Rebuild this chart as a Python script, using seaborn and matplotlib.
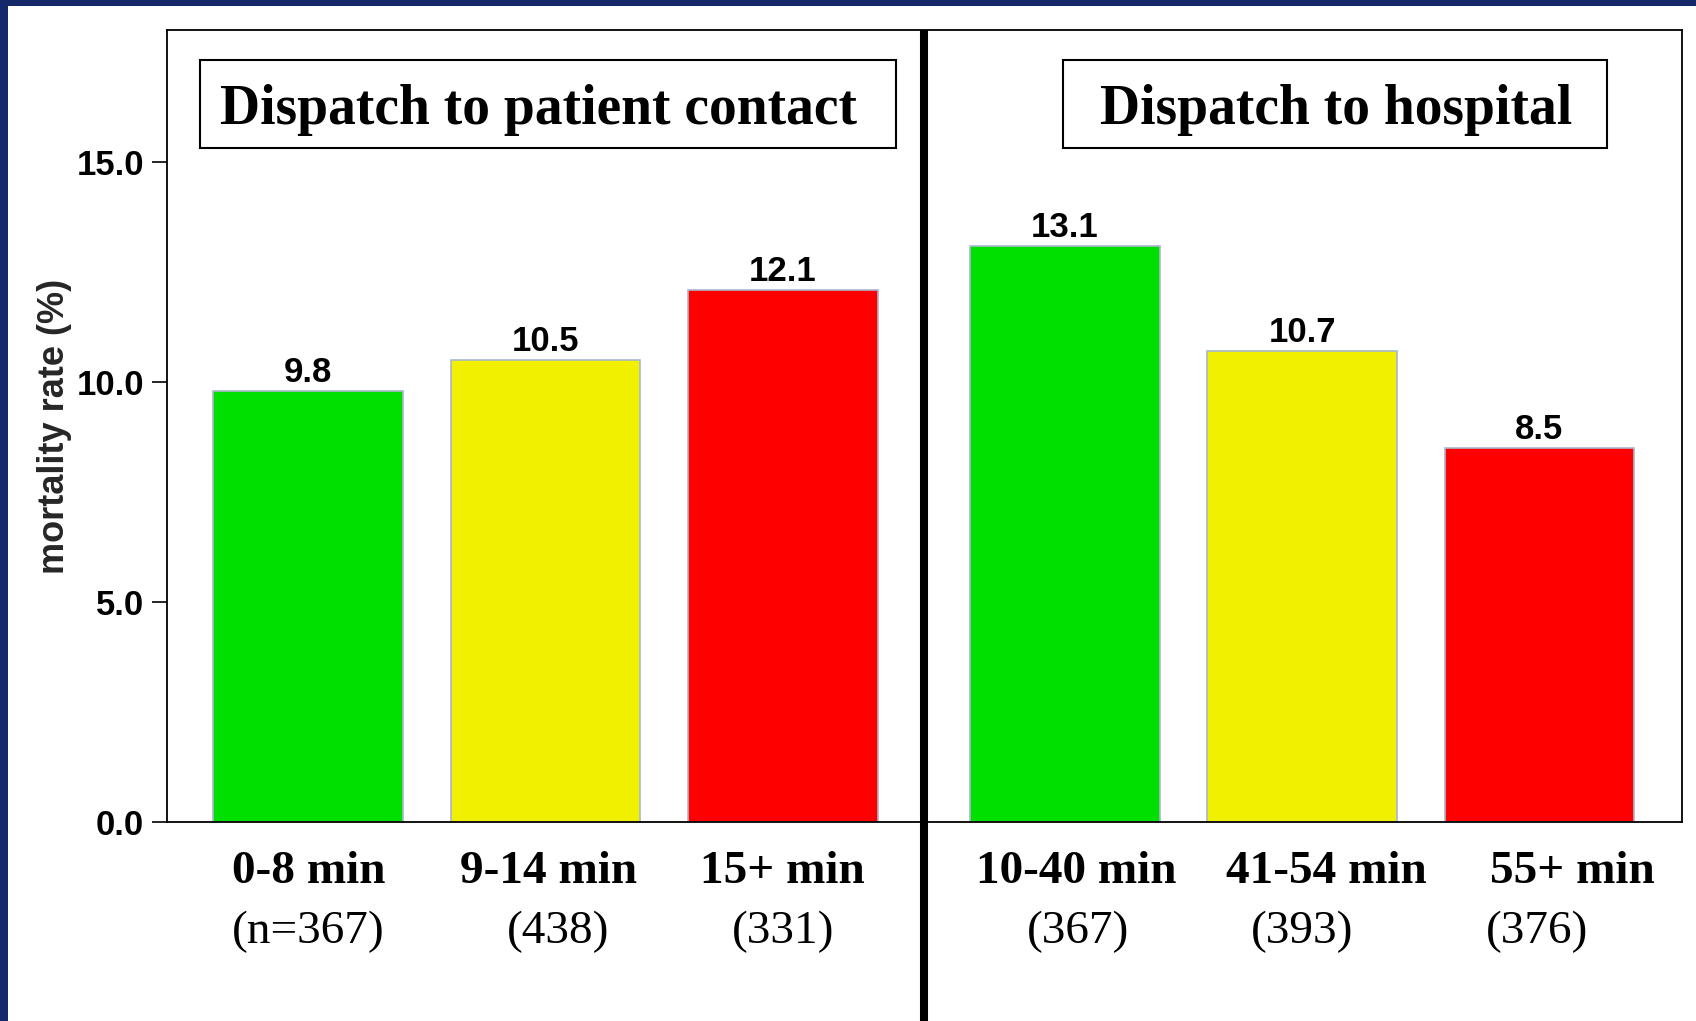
import numpy as np
import pandas as pd
import matplotlib.pyplot as plt
import seaborn as sns
from matplotlib.patches import Rectangle
from matplotlib.lines import Line2D
from matplotlib.transforms import blended_transform_factory

# data
panels = ["Dispatch to patient contact", "Dispatch to hospital"]
time_bins = ["0-8 min", "9-14 min", "15+ min", "10-40 min", "41-54 min", "55+ min"]
n_labels = ["(n=367)", "(438)", "(331)", "(367)", "(393)", "(376)"]
mortality = [9.8, 10.5, 12.1, 13.1, 10.7, 8.5]
panel_of_bin = [0, 0, 0, 1, 1, 1]
bar_colors = ["#00e000", "#f0f000", "#ff0000", "#00e000", "#f0f000", "#ff0000"]

sns.set_style("white")
plt.rcParams["font.family"] = ["Liberation Sans", "DejaVu Sans"]
plt.rcParams["text.color"] = "black"
plt.rcParams["ytick.color"] = "black"

# second panel is pushed right a little so the divider fits
panel_gap = 0.19
pos = [i + panel_gap * p for i, p in enumerate(panel_of_bin)]
df = pd.DataFrame({"bin": time_bins, "rate": mortality, "pos": pos})

fig = plt.figure(figsize=(16.96, 10.21), dpi=100)
fig.patch.set_facecolor("#15296a")
fig.add_artist(Rectangle((8 / 1696, 0), 1, 1 - 6 / 1021, transform=fig.transFigure,
                         facecolor="white", edgecolor="none", zorder=-10))

ax = fig.add_axes([167 / 1696, 199 / 1021, 1515 / 1696, 792 / 1021])
ax.set_facecolor("white")

sns.barplot(data=df, x="pos", y="rate", hue="bin", palette=dict(zip(time_bins, bar_colors)),
            native_scale=True, dodge=False, legend=False, errorbar=None, width=0.8,
            saturation=1, edgecolor="#a9b8cc", linewidth=1.2, ax=ax)

ax.set_xlim(-0.596, 5.791)
ax.set_ylim(0, 18)

# value labels on the bars
for x, v in zip(pos, mortality):
    ax.annotate(f"{v:.1f}", (x, v), xytext=(0, 6.5), textcoords="offset points",
                ha="center", va="baseline", fontsize=25, fontweight="bold")

# category labels + group sizes below the axis (slightly off-centre, as on the slide)
lab_shift = [0, 0.011, 0, 0.048, 0.103, 0.139]
n_shift = [0, 0.055, 0, 0.057, 0, -0.011]
ax.set_xticks([])
ax.set_xlabel("")
trans = blended_transform_factory(ax.transData, ax.transAxes)
for x, lab, n, s1, s2 in zip(pos, time_bins, n_labels, lab_shift, n_shift):
    ax.text(x + s1, -0.077, lab, transform=trans, ha="center", va="baseline",
            fontsize=34, fontweight="bold", family="Liberation Serif")
    ax.text(x + s2, -0.1528, n, transform=trans, ha="center", va="baseline",
            fontsize=34, family="Liberation Serif")

ax.set_yticks([0, 5, 10, 15])
ax.set_yticklabels([f"{t:.1f}" for t in [0, 5, 10, 15]], fontsize=25, fontweight="bold")
ax.tick_params(axis="y", length=11, width=1.2, pad=5.5, left=True, color="black")
ax.set_ylabel("mortality rate (%)", fontsize=26, fontweight="bold", va="center")
ax.yaxis.set_label_coords(-0.074, 0.5)

for s in ax.spines.values():
    s.set_visible(True)
    s.set_color("black")
    s.set_linewidth(1.3)

# panel title boxes
ax.add_patch(Rectangle((0.0218, 0.851), 0.4594, 0.111, transform=ax.transAxes,
                       facecolor="white", edgecolor="black", linewidth=1.5, zorder=3))
ax.text(0.0347, 0.8813, panels[0], transform=ax.transAxes, ha="left", va="baseline",
        fontsize=40, fontweight="bold", family="Liberation Serif", zorder=4)
ax.add_patch(Rectangle((0.5914, 0.851), 0.3591, 0.111, transform=ax.transAxes,
                       facecolor="white", edgecolor="black", linewidth=1.5, zorder=3))
ax.text(0.7716, 0.8813, panels[1], transform=ax.transAxes, ha="center", va="baseline",
        fontsize=40, fontweight="bold", family="Liberation Serif", zorder=4)

# thick divider between the two panels, running down to the slide edge
div_x = (pos[2] + pos[3]) / 2
fig_trans = blended_transform_factory(ax.transData, fig.transFigure)
fig.add_artist(Line2D([div_x, div_x], [0, 1 - 30 / 1021], transform=fig_trans,
                      color="black", linewidth=5.8, solid_capstyle="butt"))

fig.savefig("out.png", dpi=100, facecolor=fig.get_facecolor())
